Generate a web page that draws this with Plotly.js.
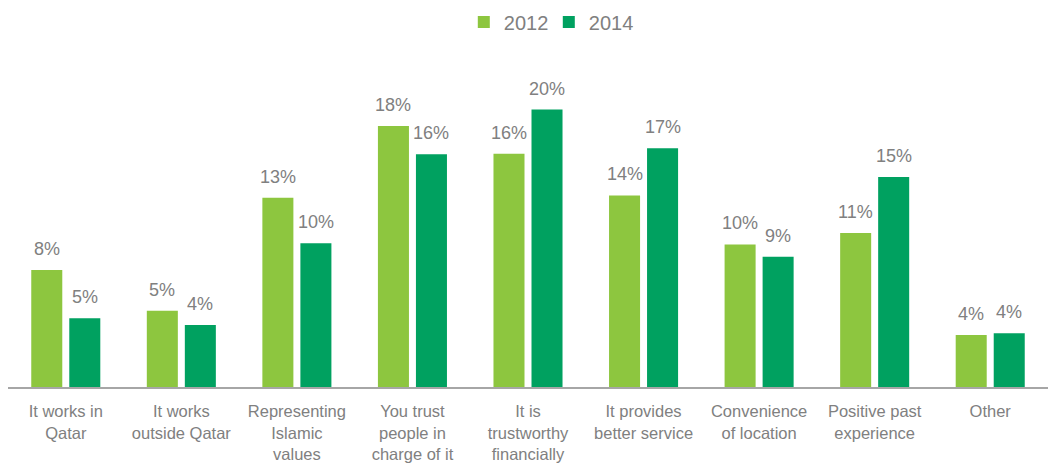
<!DOCTYPE html>
<html>
<head>
<meta charset="utf-8">
<script src="https://cdn.plot.ly/plotly-3.0.1.min.js"></script>
<style>html,body{margin:0;padding:0;background:#fff;}#chart{width:1051px;height:463px;}</style>
</head>
<body>
<div id="chart"></div>
<script>
const categories = [
  "It works in<br>Qatar",
  "It works<br>outside Qatar",
  "Representing<br>Islamic<br>values",
  "You trust<br>people in<br>charge of it",
  "It is<br>trustworthy<br>financially",
  "It provides<br>better service",
  "Convenience<br>of location",
  "Positive past<br>experience",
  "Other"
];
const values2012 = [8.43, 5.5, 13.63, 18.8, 16.8, 13.8, 10.27, 11.1, 3.75];
const values2014 = [4.95, 4.47, 10.35, 16.78, 19.99, 17.2, 9.39, 15.14, 3.87];
const labels2012 = ["8%", "5%", "13%", "18%", "16%", "14%", "10%", "11%", "4%"];
const labels2014 = ["5%", "4%", "10%", "16%", "20%", "17%", "9%", "15%", "4%"];

const c2012 = "#8DC63F";
const c2014 = "#00A160";
const gray = "#808080";

const traces = [
  {type: "bar", name: "2012", x: categories, y: values2012,
   marker: {color: c2012}, hoverinfo: "none"},
  {type: "bar", name: "2014", x: categories, y: values2014,
   marker: {color: c2014}, hoverinfo: "none"}
];

const annotations = [];
categories.forEach((c, i) => {
  annotations.push({x: c, y: values2012[i], xref: "x", yref: "y", text: labels2012[i],
    showarrow: false, yanchor: "bottom", xshift: -19, yshift: 9,
    font: {family: "Liberation Sans, Arial, sans-serif", size: 18, color: gray}});
  annotations.push({x: c, y: values2014[i], xref: "x", yref: "y", text: labels2014[i],
    showarrow: false, yanchor: "bottom", xshift: 19, yshift: 9,
    font: {family: "Liberation Sans, Arial, sans-serif", size: 18, color: gray}});
});

const layout = {
  width: 1051, height: 463,
  margin: {l: 8, r: 3, t: 81, b: 75.5, pad: 0, autoexpand: false},
  paper_bgcolor: "#fff", plot_bgcolor: "#fff",
  barmode: "group", bargap: 0.342, bargroupgap: 0.184,
  font: {family: "Liberation Sans, Arial, sans-serif", color: gray},
  showlegend: true,
  legend: {orientation: "h", x: 0.52, xanchor: "center", y: 1.193, yanchor: "middle",
    entrywidth: 40, font: {size: 20, color: gray}, itemclick: false, traceorder: "normal"},
  xaxis: {type: "category", showline: true, linecolor: "#A6A6A6", linewidth: 1.5,
    ticks: "", showgrid: false, zeroline: false, ticklabelstandoff: 9, automargin: false,
    tickfont: {size: 16.5, color: gray}, fixedrange: true},
  yaxis: {range: [0, 22.05], visible: false, showgrid: false, zeroline: false,
    automargin: false, fixedrange: true},
  annotations: annotations
};

Plotly.newPlot("chart", traces, layout, {displayModeBar: false, staticPlot: true});
</script>
</body>
</html>
